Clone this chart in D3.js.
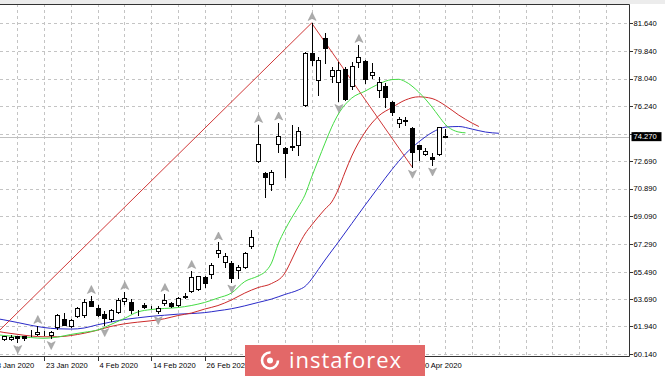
<!DOCTYPE html>
<html>
<head>
<meta charset="utf-8">
<script src="https://cdn.jsdelivr.net/npm/d3@7"></script>
<style>
  body { margin: 0; background: #fff; }
  svg { display: block; }
  text { font-family: "Liberation Sans", Arial, sans-serif; font-size: 7.6px; fill: #000; }
</style>
</head>
<body>
<svg id="chart" width="665" height="376"></svg>
<script>
// bar 0 = 13 Jan 2020, first candle shown is bar 2 (15 Jan)
const firstBar = 2

// date, open, high, low, close
const candles = [
  ['2020-01-15', 61.12, 61.34, 61.02, 61.28],
  ['2020-01-16', 61.12, 61.38, 61.05, 61.25],
  ['2020-01-17', 61.28, 61.31, 60.92, 61.18],
  ['2020-01-20', 61.28, 61.31, 61.05, 61.21],
  ['2020-01-21', 61.51, 61.67, 61.34, 61.52],
  ['2020-01-22', 61.44, 61.96, 61.38, 61.60],
  ['2020-01-23', 61.60, 61.63, 61.38, 61.54],
  ['2020-01-24', 61.38, 61.63, 61.18, 61.57],
  ['2020-01-27', 61.90, 62.74, 61.77, 62.68],
  ['2020-01-28', 62.40, 62.79, 62.01, 62.03],
  ['2020-01-29', 61.96, 62.42, 61.90, 62.35],
  ['2020-01-30', 62.61, 63.20, 62.55, 63.11],
  ['2020-01-31', 62.68, 63.72, 62.56, 63.54],
  ['2020-02-03', 63.60, 63.91, 63.26, 63.28],
  ['2020-02-04', 63.11, 63.33, 62.61, 62.68],
  ['2020-02-05', 62.77, 62.93, 62.02, 62.48],
  ['2020-02-06', 62.41, 63.07, 62.29, 63.00],
  ['2020-02-07', 62.89, 63.78, 62.80, 63.65],
  ['2020-02-10', 63.59, 64.17, 63.39, 63.75],
  ['2020-02-11', 63.54, 63.72, 62.79, 63.00],
  ['2020-02-12', 62.87, 63.00, 62.68, 62.84],
  ['2020-02-13', 63.33, 63.46, 63.10, 63.17],
  ['2020-02-14', 63.21, 63.29, 63.13, 63.19],
  ['2020-02-17', 62.95, 63.26, 62.80, 63.15],
  ['2020-02-18', 63.44, 64.04, 63.33, 63.68],
  ['2020-02-19', 63.44, 63.52, 63.20, 63.28],
  ['2020-02-20', 63.33, 63.85, 63.26, 63.76],
  ['2020-02-21', 63.94, 64.09, 63.76, 63.85],
  ['2020-02-24', 64.25, 65.54, 64.20, 65.16],
  ['2020-02-25', 64.35, 65.24, 64.27, 65.21],
  ['2020-02-26', 65.16, 65.21, 64.50, 64.77],
  ['2020-02-27', 65.34, 66.07, 65.06, 65.93],
  ['2020-02-28', 66.69, 67.39, 66.45, 66.90],
  ['2020-03-02', 66.14, 66.69, 65.81, 66.51],
  ['2020-03-03', 66.07, 66.18, 64.85, 65.06],
  ['2020-03-04', 65.60, 65.93, 65.06, 65.81],
  ['2020-03-05', 65.81, 66.79, 65.71, 66.69],
  ['2020-03-06', 67.16, 68.20, 67.01, 67.76],
  ['2020-03-09', 72.69, 75.03, 72.62, 73.77],
  ['2020-03-10', 71.92, 71.97, 70.36, 71.63],
  ['2020-03-11', 71.17, 72.10, 70.80, 71.95],
  ['2020-03-12', 73.77, 75.19, 73.29, 74.31],
  ['2020-03-13', 73.55, 73.59, 71.66, 73.23],
  ['2020-03-16', 73.59, 75.06, 73.40, 73.64],
  ['2020-03-17', 73.73, 74.91, 73.08, 74.65],
  ['2020-03-18', 76.33, 79.77, 76.26, 79.69],
  ['2020-03-19', 79.72, 81.66, 78.93, 79.25],
  ['2020-03-20', 77.95, 79.46, 76.98, 79.25],
  ['2020-03-23', 80.66, 81.03, 79.07, 80.01],
  ['2020-03-24', 78.21, 78.78, 77.84, 78.60],
  ['2020-03-25', 77.84, 79.12, 76.59, 78.60],
  ['2020-03-26', 78.65, 78.82, 76.68, 76.70],
  ['2020-03-27', 77.56, 79.14, 77.35, 78.86],
  ['2020-03-30', 79.14, 80.23, 78.81, 79.43],
  ['2020-03-31', 79.20, 79.25, 77.74, 77.99],
  ['2020-04-01', 78.27, 79.04, 78.06, 78.49],
  ['2020-04-02', 77.30, 78.15, 76.85, 77.84],
  ['2020-04-03', 77.56, 77.74, 76.22, 76.82],
  ['2020-04-06', 76.54, 76.60, 75.68, 75.89],
  ['2020-04-07', 75.17, 75.56, 74.88, 75.40],
  ['2020-04-08', 75.30, 75.52, 75.03, 75.33],
  ['2020-04-09', 74.81, 74.88, 72.31, 73.29],
  ['2020-04-10', 73.72, 73.76, 72.75, 73.45],
  ['2020-04-13', 73.14, 73.51, 73.08, 73.35],
  ['2020-04-14', 72.93, 73.23, 72.46, 72.82],
  ['2020-04-15', 73.14, 74.91, 73.08, 74.88],
  ['2020-04-16', 74.34, 74.80, 74.25, 74.27]
]

const fractalsUp = ['2020-01-22', '2020-02-03', '2020-02-10', '2020-02-18', '2020-02-24',
  '2020-02-28', '2020-03-09', '2020-03-12', '2020-03-19', '2020-03-30']
const fractalsDown = ['2020-01-17', '2020-01-24', '2020-02-05', '2020-02-17', '2020-03-03',
  '2020-03-25', '2020-04-09', '2020-04-14']

// alligator lines, [bar, value] (already shifted forward)
const jaw = [[0,62.51],[2,62.36],[4,62.19],[6,62.01],[8,61.86],[10,61.78],[12,61.76],[14,61.83],
  [16,62.04],[18,62.22],[20,62.38],[22,62.49],[24,62.59],[26,62.66],[28,62.73],[30,62.77],
  [32,62.83],[34,62.95],[36,63.08],[38,63.27],[40,63.49],[42,63.71],[44,64.01],[46,64.30],
  [47,64.53],[48,65.01],[49,65.63],[50,66.25],[52,67.42],[54,68.62],[56,69.82],[58,70.99],
  [60,72.13],[62,73.14],[64,73.92],[66,74.54],[68,74.89],[70,74.93],[72,74.76],[74,74.57],[76,74.49]]
const teeth = [[0,61.70],[2,61.54],[4,61.42],[6,61.31],[8,61.26],[10,61.26],[12,61.34],[14,61.49],
  [16,61.69],[18,61.93],[20,62.10],[22,62.21],[24,62.30],[26,62.43],[28,62.64],[30,62.80],
  [32,63.06],[34,63.29],[36,63.65],[38,64.10],[40,64.46],[42,64.72],[44,65.40],[45,66.25],
  [46,67.16],[47,67.94],[48,68.52],[50,69.56],[51,70.02],[52,70.86],[53,71.97],[54,73.01],
  [56,74.57],[58,75.61],[60,76.16],[62,76.65],[64,76.86],[66,76.75],[68,76.29],[70,75.67],
  [72,75.15],[73,74.93]]
const lips = [[0,61.44],[2,61.34],[4,61.28],[6,61.21],[8,61.16],[10,61.24],[12,61.41],[14,61.55],
  [16,61.70],[18,62.06],[20,62.45],[22,62.87],[24,63.03],[26,63.10],[28,63.16],[30,63.29],
  [32,63.49],[34,63.78],[36,64.10],[38,64.85],[40,65.21],[41,65.47],[42,66.05],[43,67.29],
  [44,68.20],[45,68.98],[46,69.69],[47,70.47],[48,71.64],[49,72.75],[50,73.85],[51,74.89],
  [52,75.74],[54,76.78],[56,77.23],[58,77.69],[60,77.98],[61,78.00],[62,77.85],[64,77.17],
  [66,76.19],[67,75.61],[68,75.06],[70,74.57],[71,74.52]]

const zigzag = [[-1, 60.67], [48, 81.66], [63, 72.31]]

const priceTicks = ['81.640', '79.840', '78.040', '76.240', '74.440', '72.690', '70.890',
  '69.090', '67.290', '65.490', '63.690', '61.940', '60.140']
// the labels at bars 40, 48, 56 sit under the watermark and are not drawn
const timeTicks = [[0, '13 Jan 2020'], [8, '23 Jan 2020'], [16, '4 Feb 2020'], [24, '14 Feb 2020'],
  [32, '26 Feb 2020'], [64, '10 Apr 2020']]
const lastPrice = 74.27

const plotLeft = 0, plotRight = 629, plotTop = 4, plotBottom = 356

let x = d3.scaleLinear().domain([0, 94]).range([-9.5, -9.5 + 6.69 * 94])
let y = d3.scaleLinear().domain([60.14, 81.64]).range([354, 23.3])

let svg = d3.select('#chart')
svg.append('defs').append('clipPath').attr('id', 'plot')
  .append('rect').attr('x', plotLeft).attr('y', plotTop)
  .attr('width', plotRight - plotLeft).attr('height', plotBottom - plotTop)

let px = v => Math.round(v) + 0.5

svg.append('rect').attr('width', 665).attr('height', plotTop).attr('fill', '#ececec')

// grid
let grid = svg.append('g').attr('stroke', '#c4c4c4').attr('stroke-dasharray', '3,3')
grid.selectAll('line.h').data(priceTicks).enter().append('line')
  .attr('x1', plotLeft).attr('x2', plotRight)
  .attr('y1', d => px(y(+d))).attr('y2', d => px(y(+d)))
grid.selectAll('line.v').data(d3.range(0, 96, 4).filter(b => x(b) > plotLeft)).enter().append('line')
  .attr('y1', plotTop).attr('y2', plotBottom)
  .attr('x1', d => px(x(d))).attr('x2', d => px(x(d)))

let plot = svg.append('g').attr('clip-path', 'url(#plot)')

// bid line
plot.append('line').attr('x1', plotLeft).attr('x2', plotRight)
  .attr('y1', px(y(lastPrice))).attr('y2', px(y(lastPrice)))
  .attr('stroke', '#c0c0c0')

// alligator + zigzag
let line = d3.line().x(d => x(d[0])).y(d => y(d[1])).curve(d3.curveMonotoneX)
plot.append('path').datum(jaw).attr('d', line).attr('fill', 'none').attr('stroke', '#2a2ac8')
plot.append('path').datum(teeth).attr('d', line).attr('fill', 'none').attr('stroke', '#cc2a2a')
plot.append('path').datum(lips).attr('d', line).attr('fill', 'none').attr('stroke', '#44dc44')
plot.append('path').datum(zigzag).attr('d', d3.line().x(d => x(d[0])).y(d => y(d[1])))
  .attr('fill', 'none').attr('stroke', '#d03838')

// candles
let bars = candles.map((c, i) => ({ date: c[0], bar: i + firstBar, o: c[1], h: c[2], l: c[3], c: c[4] }))
let cg = plot.selectAll('g.candle').data(bars).enter().append('g').attr('class', 'candle')
cg.append('line')
  .attr('x1', d => Math.round(x(d.bar)) + 0.5).attr('x2', d => Math.round(x(d.bar)) + 0.5)
  .attr('y1', d => Math.round(y(d.h))).attr('y2', d => Math.round(y(d.l)) + 1)
  .attr('stroke', '#000')
cg.append('rect')
  .attr('x', d => Math.round(x(d.bar)) - 1.5)
  .attr('y', d => Math.round(y(Math.max(d.o, d.c))) + 0.5)
  .attr('width', 4)
  .attr('height', d => Math.max(0, Math.round(y(Math.min(d.o, d.c))) - Math.round(y(Math.max(d.o, d.c)))))
  .attr('fill', d => d.c >= d.o ? '#fff' : '#000')
  .attr('stroke', '#000')

// fractals
let byDate = new Map(bars.map(d => [d.date, d]))
plot.selectAll('path.fup').data(fractalsUp.map(d => byDate.get(d))).enter().append('path')
  .attr('class', 'fup')
  .attr('d', 'M0,-4 L4,4 L0,2 L-4,4 Z')
  .attr('transform', d => `translate(${x(d.bar) + 0.5},${y(d.h) - 6.5})`)
  .attr('fill', '#acacac').attr('stroke', '#909090').attr('stroke-width', 0.5)
plot.selectAll('path.fdn').data(fractalsDown.map(d => byDate.get(d))).enter().append('path')
  .attr('class', 'fdn')
  .attr('d', 'M0,4 L4,-4 L0,-2 L-4,-4 Z')
  .attr('transform', d => `translate(${x(d.bar) + 0.5},${y(d.l) + 7.5})`)
  .attr('fill', '#acacac').attr('stroke', '#909090').attr('stroke-width', 0.5)

// frame
svg.append('path')
  .attr('d', `M${plotLeft},${plotTop + 0.5}H${plotRight + 0.5}V${plotBottom + 0.5}H${plotLeft}`)
  .attr('fill', 'none').attr('stroke', '#333')

// price axis
let ya = svg.append('g')
ya.selectAll('line').data(priceTicks).enter().append('line')
  .attr('x1', plotRight).attr('x2', plotRight + 4)
  .attr('y1', d => px(y(+d))).attr('y2', d => px(y(+d)))
  .attr('stroke', '#333')
ya.selectAll('text').data(priceTicks).enter().append('text')
  .attr('x', plotRight + 4.5).attr('y', d => y(+d) + 2.8)
  .text(d => d)

svg.append('rect').attr('x', plotRight + 2.5).attr('y', y(lastPrice) - 4.5)
  .attr('width', 30).attr('height', 9).attr('fill', '#000')
svg.append('text').attr('x', plotRight + 4.5).attr('y', y(lastPrice) + 2.8)
  .style('fill', '#fff').text(lastPrice.toFixed(3))

// time axis
let xa = svg.append('g')
xa.selectAll('line').data(timeTicks).enter().append('line')
  .attr('x1', d => px(x(d[0]))).attr('x2', d => px(x(d[0])))
  .attr('y1', plotBottom).attr('y2', plotBottom + 5)
  .attr('stroke', '#333')
xa.selectAll('text').data(timeTicks).enter().append('text')
  .attr('x', d => x(d[0]) + 2).attr('y', plotBottom + 11.5)
  .text(d => d[1])

// watermark
let logo = svg.append('g')
logo.append('rect').attr('x', 245).attr('y', 345).attr('width', 180).attr('height', 31).attr('fill', '#e36868')
logo.append('circle').attr('cx', 270).attr('cy', 360.5).attr('r', 8)
  .attr('fill', 'none').attr('stroke', '#fff').attr('stroke-width', 2.6)
  .attr('stroke-dasharray', '38,12')
logo.append('circle').attr('cx', 270).attr('cy', 360.5).attr('r', 3).attr('fill', '#fff')
logo.append('text').attr('x', 289).attr('y', 368)
  .style('font-family', '"Open Sans", sans-serif').style('font-size', '22px')
  .style('letter-spacing', '1px').style('fill', '#fff')
  .text('instaforex')
</script>
</body>
</html>
